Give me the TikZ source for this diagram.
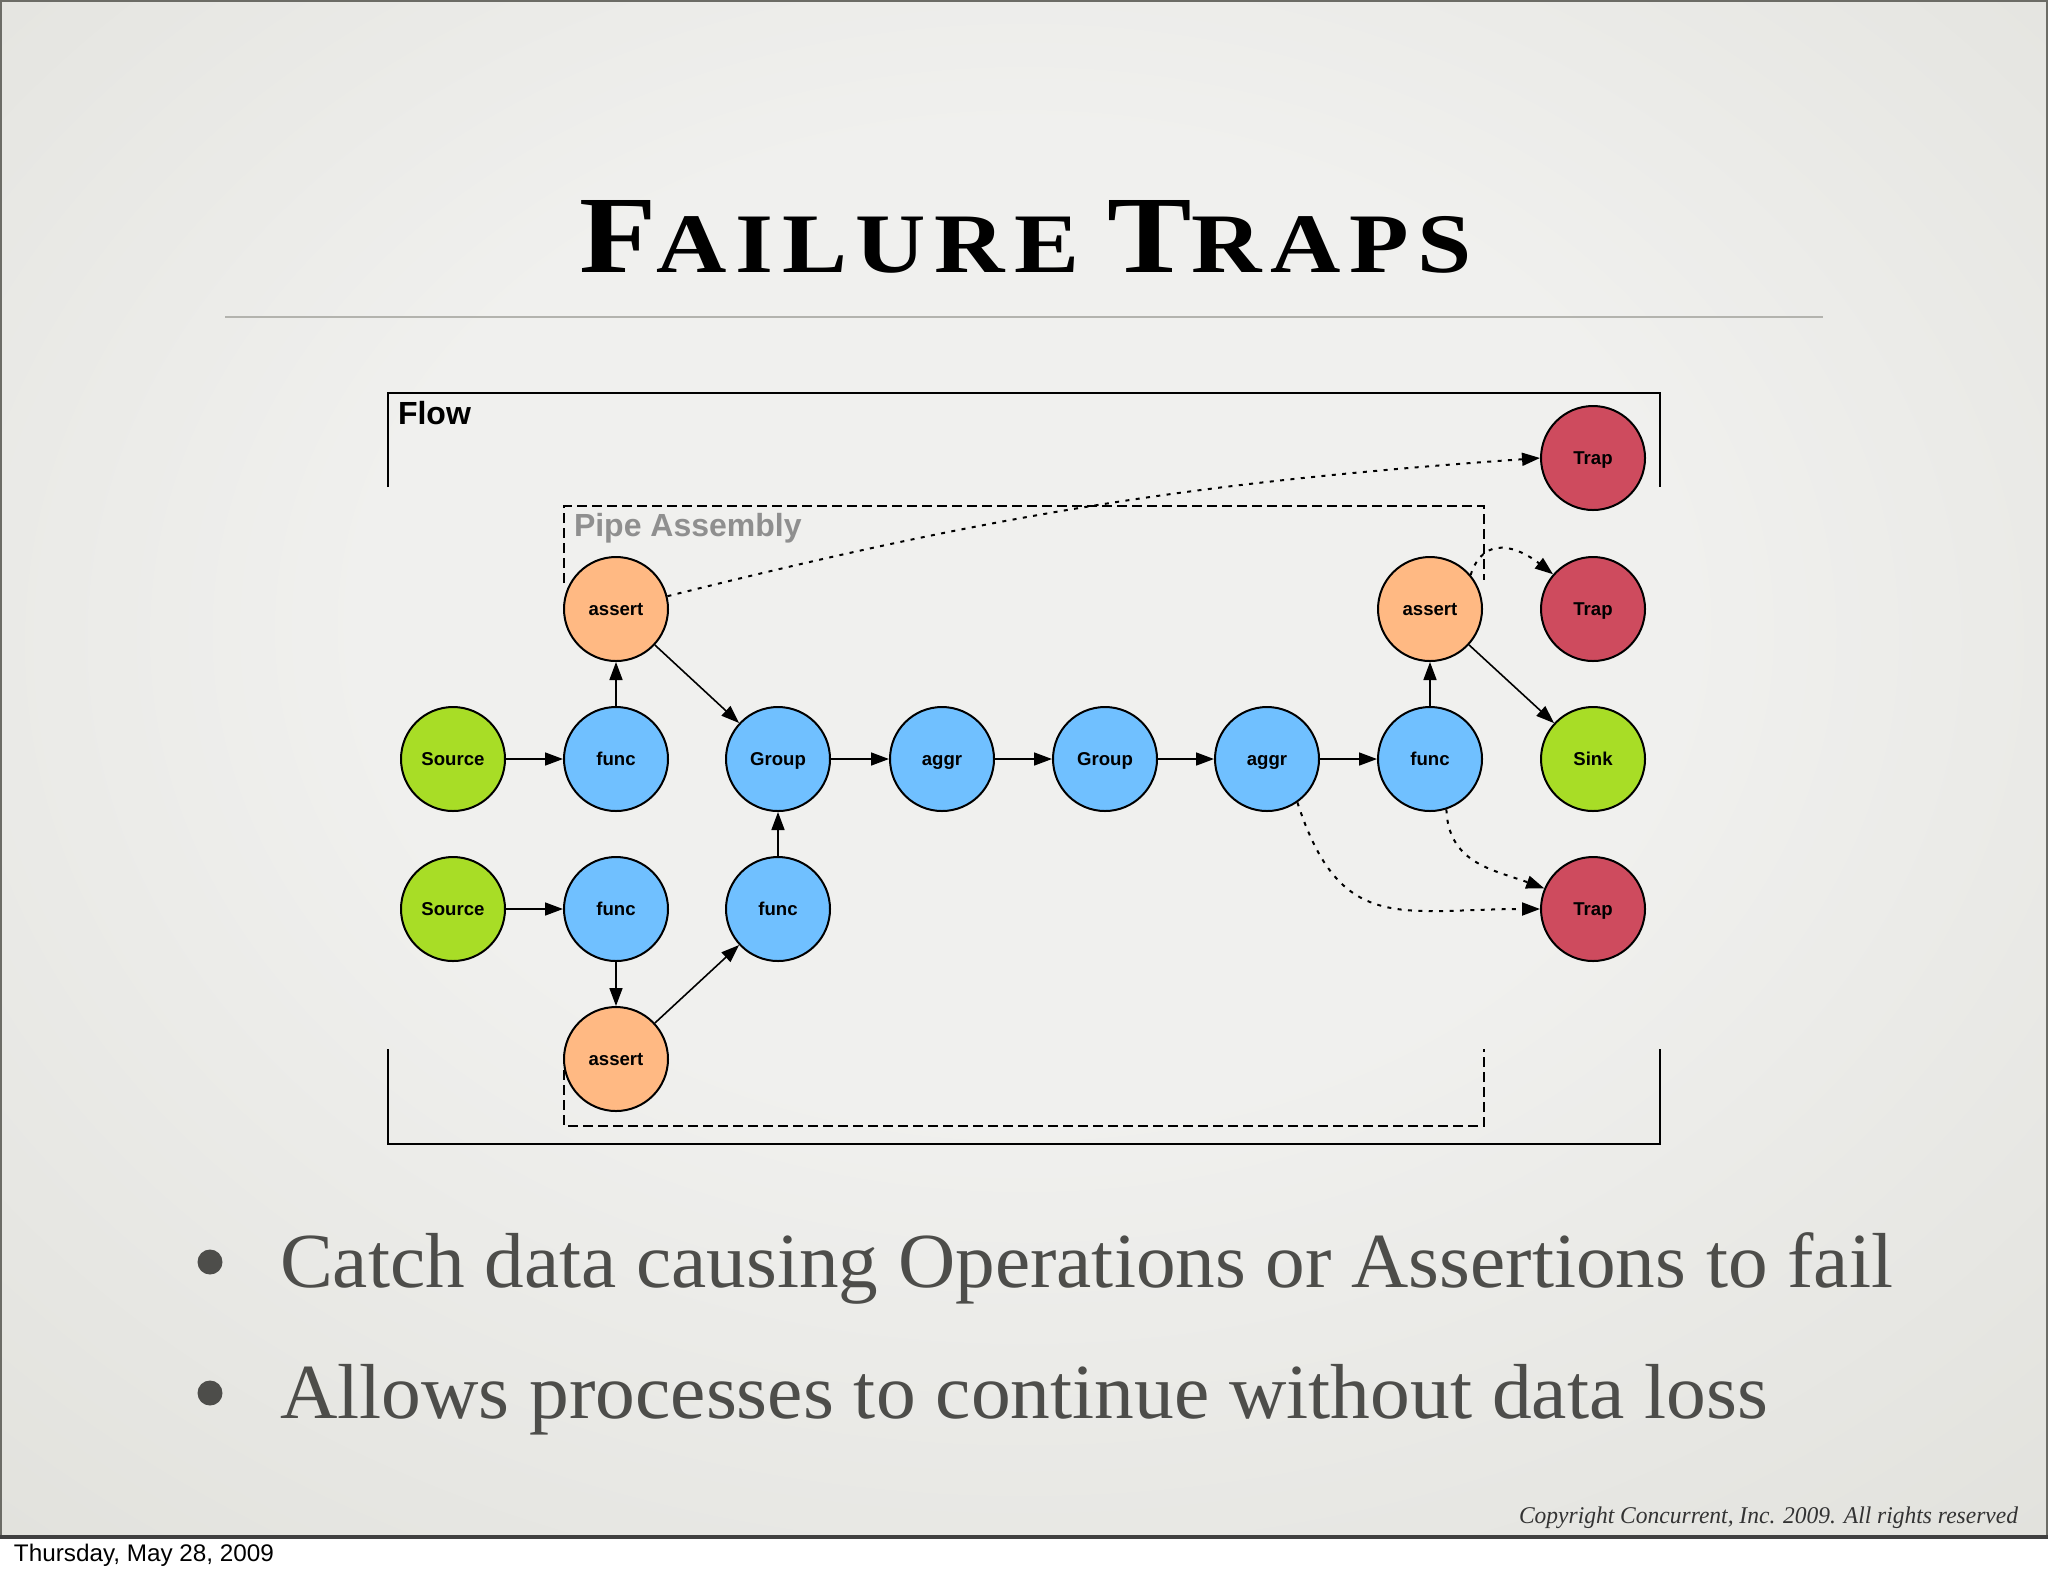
\documentclass[tikz,border=0pt]{standalone}
\usepackage{fontspec}
\usepackage{graphicx}
\setmainfont{Liberation Serif}
\newfontfamily\sansfont{Liberation Sans}
\newfontfamily\titlefont[LetterSpace=9]{Liberation Serif}
\usetikzlibrary{arrows.meta}
\definecolor{grn}{HTML}{A8DD26}
\definecolor{blu}{HTML}{70C0FF}
\definecolor{org}{HTML}{FFB983}
\definecolor{trapred}{HTML}{CE4B5E}
\definecolor{bgin}{HTML}{F0F0EE}
\definecolor{bgmid}{HTML}{DDDDD7}
\definecolor{bgout}{HTML}{C4C4BC}
\definecolor{txtcol}{HTML}{4D4D4A}
\definecolor{pipegray}{HTML}{8F8F8F}
\definecolor{rulegray}{HTML}{B3B3AE}
\definecolor{bordergray}{HTML}{6C6C66}
\pgfdeclareradialshading{slidebg}{\pgfpoint{0bp}{6bp}}{color(0bp)=(bgin); color(16bp)=(bgin); color(45bp)=(bgmid); color(75bp)=(bgout)}
\begin{document}
\begin{tikzpicture}[x=0.5pt,y=-0.5pt,
  nd/.style={circle,draw=black,line width=1pt,minimum size=52pt,inner sep=0pt,
    text height=6.6pt,text depth=0pt,
    font=\sansfont\bfseries\fontsize{9.3}{10}\selectfont},
  srcnode/.style={nd,fill=grn},
  fnnode/.style={nd,fill=blu},
  asnode/.style={nd,fill=org},
  trnode/.style={nd,fill=trapred},
  arr/.style={line width=0.8pt,-{Triangle[length=9pt,width=6.5pt]}},
  dotarr/.style={line width=1pt,dash pattern=on 2pt off 3.2pt,-{Triangle[length=9pt,width=6.5pt]}},
  flowline/.style={line width=1.25pt,black},
  pipeline/.style={line width=1.3pt,black,dash pattern=on 5pt off 2.5pt},
  txt/.style={anchor=base west,inner sep=0pt,outer sep=0pt}
]
\useasboundingbox (0,0) rectangle (2048,1576);
\fill[white] (0,0) rectangle (2048,1576);
\shade[shading=slidebg] (0,0) rectangle (2048,1537);
\draw[bordergray,line width=1pt] (1,1537) -- (1,1) -- (2047,1) -- (2047,1537);
\draw[black!75,line width=1.6pt] (0,1537) -- (2048,1537);

% title
\node[txt] (title) at (579,272) {\resizebox{446.5pt}{36pt}{\titlefont\bfseries\fontsize{10}{12}\selectfont F{\fontsize{7.7}{9}\selectfont AILURE}\hspace{2.2pt}T{\fontsize{7.7}{9}\selectfont RAPS}}};
\draw[rulegray,line width=1pt] (225,317) -- (1823,317);

% boxes
\draw[flowline] (388,487) -- (388,393) -- (1660,393) -- (1660,487);
\draw[flowline] (388,1049) -- (388,1144) -- (1660,1144) -- (1660,1049);
\draw[pipeline] (564,583) -- (564,506) -- (1484,506) -- (1484,580);
\draw[pipeline] (564,1070) -- (564,1126) -- (1484,1126) -- (1484,1049);
\node[txt,font=\sansfont\bfseries\fontsize{16}{18}\selectfont] (flowlbl) at (398,424) {Flow};
\node[txt,text=pipegray,font=\sansfont\bfseries\fontsize{16}{18}\selectfont] (pipelbl) at (574,536) {Pipe Assembly};

% nodes
\node[srcnode] (s1) at (453,759) {Source};
\node[fnnode] (f1) at (616,759) {func};
\node[fnnode] (g1) at (778,759) {Group};
\node[fnnode] (a1) at (942,759) {aggr};
\node[fnnode] (g2) at (1105,759) {Group};
\node[fnnode] (a2) at (1267,759) {aggr};
\node[fnnode] (f3) at (1430,759) {func};
\node[srcnode] (sk) at (1593,759) {Sink};
\node[asnode] (as1) at (616,609) {assert};
\node[asnode] (as3) at (1430,609) {assert};
\node[trnode] (t1) at (1593,458) {Trap};
\node[trnode] (t2) at (1593,609) {Trap};
\node[srcnode] (s2) at (453,909) {Source};
\node[fnnode] (f2) at (616,909) {func};
\node[fnnode] (f4) at (778,909) {func};
\node[trnode] (t3) at (1593,909) {Trap};
\node[asnode] (as2) at (616,1059) {assert};

% solid edges
\draw[arr] (s1) -- (f1);
\draw[arr] (f1) -- (as1);
\draw[arr] (as1) -- (g1);
\draw[arr] (g1) -- (a1);
\draw[arr] (a1) -- (g2);
\draw[arr] (g2) -- (a2);
\draw[arr] (a2) -- (f3);
\draw[arr] (f3) -- (as3);
\draw[arr] (as3) -- (sk);
\draw[arr] (s2) -- (f2);
\draw[arr] (f2) -- (as2);
\draw[arr] (as2) -- (f4);
\draw[arr] (f4) -- (g1);

% dotted trap edges
\draw[dotarr] (as1.14) to[out=14,in=184] (t1.west);
\draw[dotarr] (as3.40) to[out=72,in=142,looseness=1.35] (t2.139);
\draw[dotarr] (a2.-55) to[out=-72,in=180,looseness=1.35] (t3.west);
\draw[dotarr] (f3.-72) to[out=-88,in=160,looseness=1.1] (t3.157);

% bullets
\node[circle,fill=txtcol,minimum size=12.5pt,inner sep=0pt] (b1) at (210,1262) {};
\node[circle,fill=txtcol,minimum size=12.5pt,inner sep=0pt] (b2) at (210,1393) {};
\node[txt,text=txtcol] (l1) at (280,1287) {\resizebox{806.5pt}{\height}{\fontsize{39}{46}\selectfont Catch data causing Operations or Assertions to fail}};
\node[txt,text=txtcol] (l2) at (280,1418) {\resizebox{744pt}{\height}{\fontsize{39}{46}\selectfont Allows processes to continue without data loss}};

% footer
\node[txt,text=black!80] (copy) at (1519,1523) {\resizebox{249.5pt}{\height}{\fontsize{12}{14}\selectfont\itshape Copyright Concurrent, Inc. 2009. All rights reserved}};
\node[txt] (date) at (14,1561) {\resizebox{130pt}{\height}{\sansfont\fontsize{12}{14}\selectfont Thursday, May 28, 2009}};
\end{tikzpicture}
\end{document}
